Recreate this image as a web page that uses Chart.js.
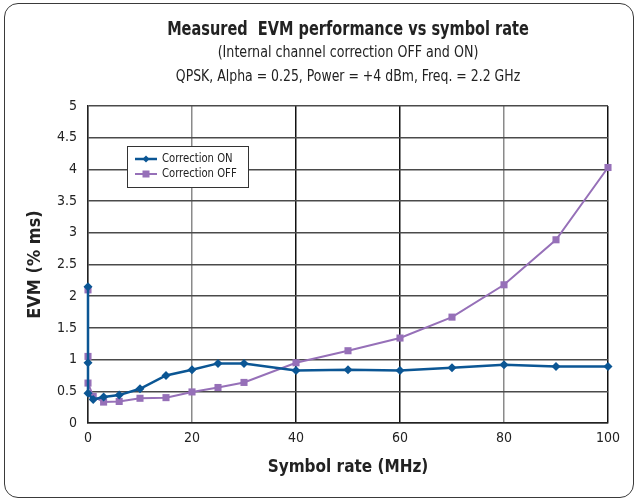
<!DOCTYPE html>
<html>
<head>
<meta charset="utf-8">
<script src="https://cdn.jsdelivr.net/npm/chart.js@4"></script>
<style>
  html, body { margin: 0; padding: 0; background: #fff; }
  #wrap { position: relative; width: 638px; height: 503px; }
  #card {
    position: absolute; left: 4px; top: 3px; width: 630px; height: 495px;
    border: 1.5px solid #3a3a3a; border-radius: 14px; box-sizing: border-box;
  }
  #chart { position: absolute; left: 0; top: 0; }
</style>
</head>
<body>
<div id="wrap">
  <div id="card"></div>
  <canvas id="chart" width="638" height="503"></canvas>
</div>
<script>
// 차트 데이터
const titleText = 'Measured  EVM performance vs symbol rate';
const subtitleLines = ['(Internal channel correction OFF and ON)', 'QPSK, Alpha = 0.25, Power = +4 dBm, Freq. = 2.2 GHz'];
const xTitle = 'Symbol rate (MHz)';
const yTitle = 'EVM (% ms)';

const seriesNames = ['Correction ON', 'Correction OFF'];

const onRate = [0, 0, 0, 1, 3, 6, 10, 15, 20, 25, 30, 40, 50, 60, 70, 80, 90, 100];
const onEvm = [2.15, 0.95, 0.47, 0.37, 0.41, 0.44, 0.54, 0.75, 0.84, 0.94, 0.94, 0.83, 0.84, 0.83, 0.87, 0.92, 0.89, 0.89];

const offRate = [0, 0, 0, 1, 3, 6, 10, 15, 20, 25, 30, 40, 50, 60, 70, 80, 90, 100];
const offEvm = [2.1, 1.05, 0.63, 0.42, 0.33, 0.34, 0.39, 0.40, 0.49, 0.56, 0.64, 0.95, 1.14, 1.34, 1.67, 2.18, 2.89, 4.03];

const FONT = "'Liberation Sans Narrow', 'DejaVu Sans Condensed', 'Roboto Condensed', sans-serif";
Chart.defaults.font.family = FONT;
Chart.defaults.color = '#222';

const toPoints = (xs, ys) => xs.map((x, i) => ({ x: x, y: ys[i] }));

// 좁은 글꼴 흉내: 가로로 눌러서 그리기
function squeezeText(ctx, text, x, y, sx) {
    ctx.save();
    ctx.translate(x, y);
    ctx.scale(sx, 1);
    ctx.fillText(text, 0, 0);
    ctx.restore();
}

// 제목 + 부제목 (차트 영역 가운데 정렬)
const headerPlugin = {
    id: 'header',
    afterDraw(chart) {
        const { ctx, chartArea } = chart;
        const cx = (chartArea.left + chartArea.right) / 2;
        ctx.save();
        ctx.fillStyle = '#222';
        ctx.textAlign = 'center';
        ctx.textBaseline = 'middle';
        ctx.font = 'bold 19px ' + FONT;
        squeezeText(ctx, titleText, cx, 30, 0.85);
        ctx.font = '15px ' + FONT;
        squeezeText(ctx, subtitleLines[0], cx, 53, 0.94);
        squeezeText(ctx, subtitleLines[1], cx, 77, 0.925);
        ctx.restore();
    }
};

// 플롯 안쪽 범례 박스
const innerLegend = {
    id: 'innerLegend',
    afterDraw(chart) {
        const { ctx } = chart;
        const x = 127, y = 146, w = 121, h = 41;
        ctx.save();
        ctx.fillStyle = '#fff';
        ctx.fillRect(x, y, w, h);
        ctx.strokeStyle = '#333';
        ctx.lineWidth = 1;
        ctx.strokeRect(x + 0.5, y + 0.5, w, h);
        ctx.font = '13px ' + FONT;
        ctx.textBaseline = 'middle';
        ctx.textAlign = 'left';
        chart.data.datasets.forEach((ds, i) => {
            const ry = y + 13 + i * 15;
            ctx.strokeStyle = ds.borderColor;
            ctx.lineWidth = ds.borderWidth;
            ctx.beginPath();
            ctx.moveTo(x + 8, ry);
            ctx.lineTo(x + 30, ry);
            ctx.stroke();
            ctx.fillStyle = ds.pointBackgroundColor;
            if (ds.pointStyle === 'rectRot') {
                ctx.beginPath();
                ctx.moveTo(x + 19, ry - 3.5);
                ctx.lineTo(x + 22.5, ry);
                ctx.lineTo(x + 19, ry + 3.5);
                ctx.lineTo(x + 15.5, ry);
                ctx.closePath();
                ctx.fill();
            } else {
                ctx.fillRect(x + 15.5, ry - 3.5, 7, 7);
            }
            ctx.fillStyle = '#222';
            squeezeText(ctx, ds.label, x + 35, ry, 0.86);
        });
        ctx.restore();
    }
};

new Chart(document.getElementById('chart'), {
    type: 'line',
    data: {
        datasets: [
            {
                label: seriesNames[0],
                data: toPoints(onRate, onEvm),
                borderColor: '#0b5694',
                backgroundColor: '#0b5694',
                pointBackgroundColor: '#0b5694',
                pointBorderColor: '#0b5694',
                borderWidth: 2.5,
                pointStyle: 'rectRot',
                pointRadius: 4.5,
                pointBorderWidth: 0,
                tension: 0,
                clip: false
            },
            {
                label: seriesNames[1],
                data: toPoints(offRate, offEvm),
                borderColor: '#9670b8',
                backgroundColor: '#9670b8',
                pointBackgroundColor: '#9670b8',
                pointBorderColor: '#9670b8',
                borderWidth: 2,
                pointStyle: 'rect',
                pointRadius: 5,
                pointBorderWidth: 0,
                tension: 0,
                clip: false
            }
        ]
    },
    options: {
        responsive: false,
        animation: false,
        layout: { padding: { top: 106, right: 30, bottom: 0, left: 0 } },
        plugins: {
            legend: { display: false },
            tooltip: { enabled: false },
            title: { display: false }
        },
        scales: {
            x: {
                type: 'linear',
                min: 0,
                max: 100,
                afterFit(scale) { scale.height = 80; },
                ticks: { stepSize: 20, padding: 7, font: { size: 14 }, color: '#222', maxRotation: 0 },
                grid: {
                    drawTicks: false,
                    lineWidth: 1.5,
                    color: ctx => {
                        const v = ctx.tick && ctx.tick.value;
                        return (v === 40 || v === 60 || v === 100) ? '#111' : '#8a8a8a';
                    }
                },
                border: { display: true, color: '#222', width: 1.5 },
                title: { display: true, text: xTitle, font: { size: 17, weight: 'bold' }, color: '#222', padding: { top: 0, bottom: 25 } }
            },
            y: {
                min: 0,
                max: 5,
                afterFit(scale) { scale.width = 88; },
                ticks: { stepSize: 0.5, padding: 11, font: { size: 14 }, color: '#222', callback: v => String(v) },
                grid: { drawTicks: false, lineWidth: 1.5, color: '#4a4a4a' },
                border: { display: true, color: '#222', width: 1.5 },
                title: { display: true, text: yTitle, font: { size: 18, weight: 'bold' }, color: '#222', padding: { top: 25, bottom: 0 } }
            }
        }
    },
    plugins: [headerPlugin, innerLegend]
});
</script>
</body>
</html>
